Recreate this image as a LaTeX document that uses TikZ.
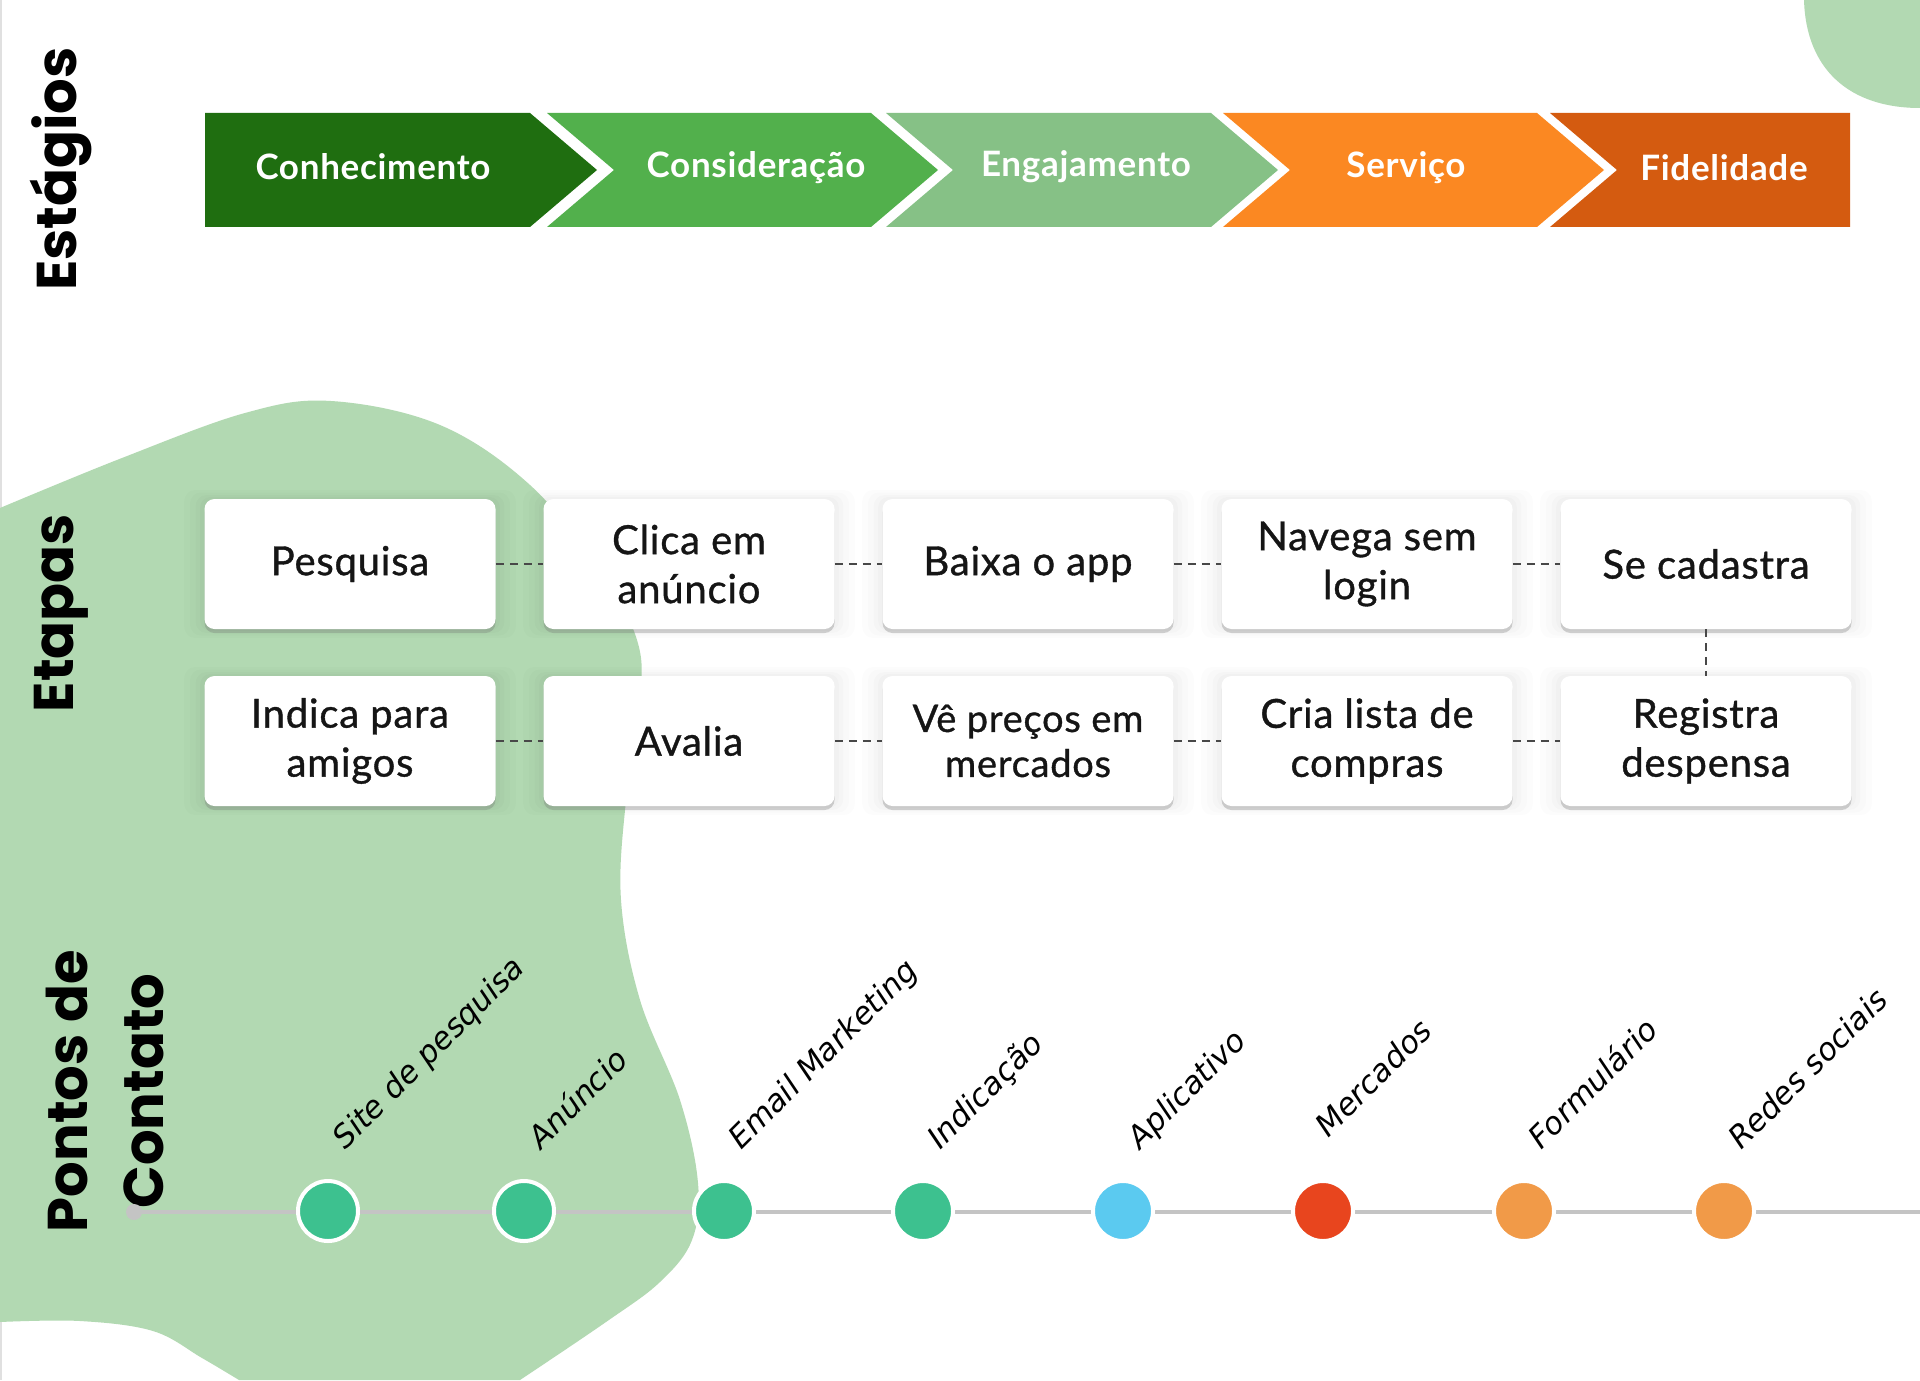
\documentclass[tikz,border=0pt]{standalone}
\usepackage{fontspec}
\setmainfont{Lato}
\newfontfamily\ttlfam{Poppins}
\newfontfamily\lblfam{DejaVu Sans}
\newfontfamily\cardfam{Lato}[FakeBold=0.9, LetterSpace=2]
\newfontfamily\chevfam{Lato}[LetterSpace=2]
\usetikzlibrary{shadows}
\definecolor{blobg}{HTML}{B2D9B2}
\definecolor{cA}{HTML}{1F6E10}
\definecolor{cB}{HTML}{52B04C}
\definecolor{cC}{HTML}{86C186}
\definecolor{cD}{HTML}{FB8822}
\definecolor{cE}{HTML}{D45B10}
\definecolor{dotg}{HTML}{3DC18F}
\definecolor{dotb}{HTML}{5BCAF0}
\definecolor{dotr}{HTML}{E8451E}
\definecolor{doto}{HTML}{F19A48}
\definecolor{tline}{HTML}{C4C4C4}
\definecolor{dashc}{HTML}{484848}
\definecolor{ink}{HTML}{151515}
\newcommand\cardfont{\cardfam\fontsize{20}{24.5}\selectfont}
\newcommand\cardfontsm{\cardfam\fontsize{19}{22.5}\selectfont}
\newcommand\chevfont{\chevfam\bfseries\fontsize{17.5}{22}\selectfont}
\newcommand\ttlfont{\ttlfam\bfseries\fontsize{28}{38}\selectfont}
\newcommand\lblfont{\lblfam\itshape\fontsize{15.5}{18}\selectfont}
\begin{document}
\begin{tikzpicture}[x=0.5pt,y=-0.5pt,
  card/.style={fill=white, rounded corners=5pt, minimum width=145.5pt, minimum height=65pt,
    align=center, font=\cardfont, text=ink, inner sep=2pt,
    drop shadow={shadow xshift=0pt, shadow yshift=0pt, shadow scale=1.14, opacity=0.010, fill=black},
    drop shadow={shadow xshift=0pt, shadow yshift=0pt, shadow scale=1.10, opacity=0.012, fill=black},
    drop shadow={shadow xshift=0pt, shadow yshift=0pt, shadow scale=1.06, opacity=0.014, fill=black},
    drop shadow={shadow xshift=0pt, shadow yshift=0pt, shadow scale=1.03, opacity=0.016, fill=black},
    drop shadow={shadow xshift=0pt, shadow yshift=-2pt, opacity=0.30, fill=black!55}},
  dcon/.style={dashc, line width=1pt, dash pattern=on 4pt off 3pt},
  chev/.style={font=\chevfont, text=white, inner sep=0pt},
  ttl/.style={font=\ttlfont, text=black, inner sep=0pt, align=center, rotate=90},
  dot/.style={circle, minimum size=30pt, inner sep=0pt, draw=white, line width=2pt},
  lbl/.style={font=\lblfont, text=black, rotate=45, anchor=base west, inner sep=0pt}]
\useasboundingbox (0,0) rectangle (1920,1380);
\fill[white] (0,0) rectangle (1920,1380);
\draw[black!12, line width=1pt] (1,0) -- (1,1380);
% background blobs
\fill[blobg] plot[smooth, tension=0.6] coordinates {(0,508) (122,458) (245,413) (331,401) (440,425) (530,485) (600,570) (637,640) (640,700) (626,800) (621,900) (640,1000) (680,1100) (698,1183) (692,1240) (660,1282) (606,1322) (520,1380)}
  -- (239,1380) -- plot[smooth, tension=0.6] coordinates {(239,1380) (202,1358) (153,1331) (80,1321) (0,1322)} -- cycle;
\fill[blobg] (1804,0) .. controls (1806,70) and (1850,108) .. (1920,108) -- (1920,0) -- cycle;
% chevrons
\fill[cA] (205,113) -- (530,113) -- (597,170) -- (530,227) -- (205,227) -- cycle;
\fill[cB] (547,113) -- (871,113) -- (938,170) -- (871,227) -- (547,227) -- (614,170) -- cycle;
\fill[cC] (886,113) -- (1211,113) -- (1278,170) -- (1211,227) -- (886,227) -- (953,170) -- cycle;
\fill[cD] (1223,113) -- (1537,113) -- (1604,170) -- (1537,227) -- (1223,227) -- (1290,170) -- cycle;
\fill[cE] (1550,113) -- (1850,113) -- (1850,227) -- (1550,227) -- (1617,170) -- cycle;
\node[chev] (s1) at (373,167) {Conhecimento};
\node[chev] (s2) at (756,168) {Consideração};
\node[chev] (s3) at (1086,167) {Engajamento};
\node[chev] (s4) at (1406,168) {Serviço};
\node[chev] (s5) at (1724,168) {Fidelidade};
% titles
\node[ttl] (tEst) at (61,169) {Estágios};
\node[ttl] (tEta) at (61,613) {Etapas};
\node[ttl] (tPon) at (105,1091) {Pontos de\\Contato};
% cards
\node[card] (b1) at (350,564) {Pesquisa};
\node[card] (b2) at (689,564) {Clica em\\anúncio};
\node[card] (b3) at (1028,564) {Baixa o app};
\node[card] (b4) at (1367,564) {Navega sem\\login};
\node[card] (b5) at (1706,564) {Se cadastra};
\node[card] (r1) at (350,741) {Indica para\\amigos};
\node[card] (r2) at (689,741) {Avalia};
\node[card, font=\cardfontsm] (r3) at (1028,741) {Vê preços em\\mercados};
\node[card] (r4) at (1367,741) {Cria lista de\\compras};
\node[card] (r5) at (1706,741) {Registra\\despensa};
\draw[dcon] (b1.east) -- (b2.west);
\draw[dcon] (b2.east) -- (b3.west);
\draw[dcon] (b3.east) -- (b4.west);
\draw[dcon] (b4.east) -- (b5.west);
\draw[dcon] (b5.south) -- (r5.north);
\draw[dcon] (r1.east) -- (r2.west);
\draw[dcon] (r2.east) -- (r3.west);
\draw[dcon] (r3.east) -- (r4.west);
\draw[dcon] (r4.east) -- (r5.west);
% timeline
\coordinate (tl0) at (134,1212);
\coordinate (tlEnd) at (1920,1212);
\draw[tline, line width=2pt] (tl0) -- (tlEnd);
\fill[tline] (tl0) circle (4pt);
\node[dot, fill=dotg] (p1) at (328,1211) {};
\node[dot, fill=dotg] (p2) at (524,1211) {};
\node[dot, fill=dotg] (p3) at (724,1211) {};
\node[dot, fill=dotg] (p4) at (923,1211) {};
\node[dot, fill=dotb] (p5) at (1123,1211) {};
\node[dot, fill=dotr] (p6) at (1323,1211) {};
\node[dot, fill=doto] (p7) at (1524,1211) {};
\node[dot, fill=doto] (p8) at (1724,1211) {};
\node[lbl] (l1) at (345,1151) {Site de pesquisa};
\node[lbl] (l2) at (541,1151) {Anúncio};
\node[lbl] (l3) at (741,1151) {Email Marketing};
\node[lbl] (l4) at (940,1151) {Indicação};
\node[lbl] (l5) at (1140,1151) {Aplicativo};
\node[lbl] (l6) at (1328,1139) {Mercados};
\node[lbl] (l7) at (1541,1151) {Formulário};
\node[lbl] (l8) at (1741,1151) {Redes sociais};
\end{tikzpicture}
\end{document}
